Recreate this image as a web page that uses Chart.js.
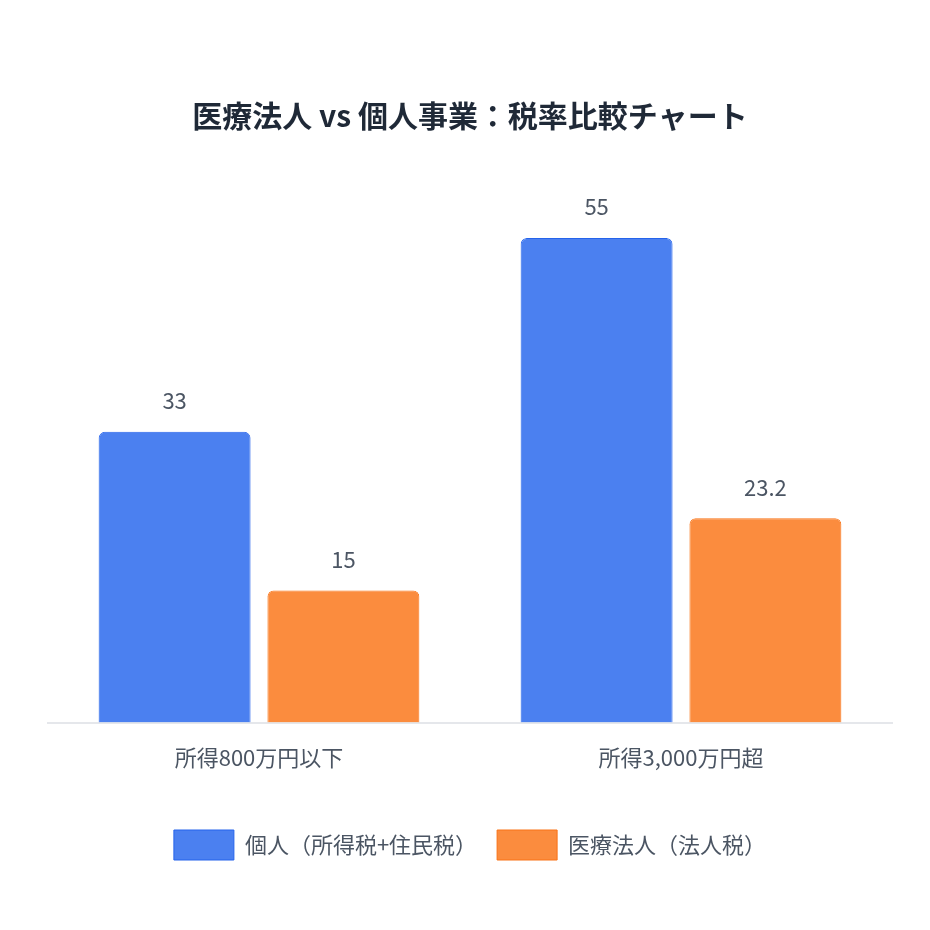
<!DOCTYPE html>
<html><head><meta charset="utf-8">
<script src="https://cdn.jsdelivr.net/npm/chart.js@4.4.0/dist/chart.umd.min.js"></script>
<style>html,body{margin:0;background:#fff}#w{width:930px;height:930px}</style>
</head><body><div id="w"><canvas id="c"></canvas></div>
<script>
const categories = ["所得800万円以下", "所得3,000万円超"];
const seriesNames = ["個人（所得税+住民税）", "医療法人（法人税）"];
const individualRates = [33, 55];
const corporateRates = [15, 23.2];
const FONT = "'Noto Sans CJK JP','Noto Sans',sans-serif";
const labelPlugin = {
  id: 'vals',
  afterDatasetsDraw(chart) {
    const ctx = chart.ctx;
    ctx.save();
    ctx.font = "22px " + FONT;
    ctx.fillStyle = "#4b5563";
    ctx.textAlign = "center";
    ctx.textBaseline = "bottom";
    chart.data.datasets.forEach((ds, i) => {
      chart.getDatasetMeta(i).data.forEach((bar, j) => {
        ctx.fillText(String(ds.data[j]), bar.x, bar.y - 20);
      });
    });
    ctx.restore();
  }
};
new Chart(document.getElementById('c'), {
  type: 'bar',
  data: {
    labels: categories,
    datasets: [
      { label: seriesNames[0], data: individualRates, backgroundColor: '#4b80f0', borderColor: '#2563eb', borderWidth: 1, borderRadius: 6, borderSkipped: 'bottom' },
      { label: seriesNames[1], data: corporateRates, backgroundColor: '#fb8c3e', borderColor: '#f97316', borderWidth: 1, borderRadius: 6, borderSkipped: 'bottom' }
    ]
  },
  options: {
    responsive: true, maintainAspectRatio: false, animation: false,
    layout: { padding: { left: 48, right: 38, top: 78, bottom: 60 } },
    plugins: {
      title: { display: true, text: '医療法人 vs 個人事業：税率比較チャート', color: '#1f2937', font: { family: FONT, size: 30, weight: 'bold' }, padding: { top: 20, bottom: 60 } },
      legend: { position: 'bottom', labels: { boxWidth: 60, boxHeight: 30, padding: 20, color: '#4b5563', font: { family: FONT, size: 22 } } },
      tooltip: { enabled: false }
    },
    scales: {
      x: { afterFit(s) { s.height += 25; }, grid: { display: false }, border: { color: '#e5e7eb', width: 2 }, ticks: { color: '#4b5563', padding: 14, font: { family: FONT, size: 22 } } },
      y: { display: false, min: 0, max: 60 }
    }
  },
  plugins: [labelPlugin]
});
</script></body></html>
